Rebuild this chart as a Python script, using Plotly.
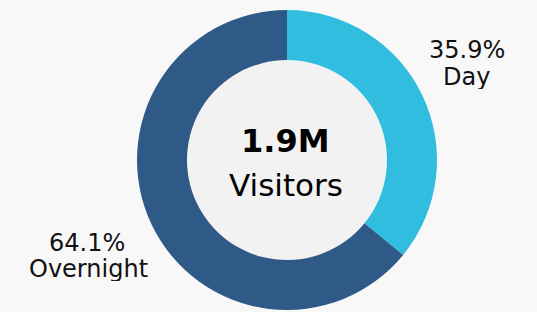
import plotly.graph_objects as go

categories = ["Day", "Overnight"]
shares = [35.9, 64.1]
colors = ["#31bde0", "#2f5a87"]
total_label = "1.9M"
center_label = "Visitors"

W, H = 537, 312
cx, cy, R, r = 287, 160, 150, 100

fig = go.Figure(go.Pie(
    labels=categories,
    values=shares,
    sort=False,
    direction="clockwise",
    rotation=0,
    hole=r / R,
    marker=dict(colors=colors, line=dict(width=0)),
    textinfo="none",
    hoverinfo="label+percent",
    showlegend=False,
    domain=dict(x=[(cx - R) / W, (cx + R) / W], y=[1 - (cy + R) / H, 1 - (cy - R) / H]),
))

def px(x, y):
    return x / W, 1 - y / H

font = "DejaVu Sans, Verdana, sans-serif"
ann = []
label_pos = {"Day": ((467, 50), (466, 77)), "Overnight": ((87, 242.5), (88, 268.5))}
for cat, val in zip(categories, shares):
    (x1, y1), (x2, y2) = label_pos[cat]
    for (x, y), t in (((x1, y1), f"{val:.1f}%"), ((x2, y2), cat)):
        ax, ay = px(x, y)
        ann.append(dict(x=ax, y=ay, xref="paper", yref="paper", text=t, showarrow=False,
                        xanchor="center", yanchor="middle", height=24, valign="middle",
                        font=dict(family=font, size=24, color="#111111")))
ax, ay = px(285, 141.5)
ann.append(dict(x=ax, y=ay, xref="paper", yref="paper", text=f"<b>{total_label}</b>", showarrow=False,
                xanchor="center", yanchor="middle", font=dict(family=font, size=32, color="#000000")))
ax, ay = px(286, 184.5)
ann.append(dict(x=ax, y=ay, xref="paper", yref="paper", text=center_label, showarrow=False,
                xanchor="center", yanchor="middle", font=dict(family=font, size=31, color="#000000")))

fig.update_layout(
    width=W, height=H,
    margin=dict(l=0, r=0, t=0, b=0),
    paper_bgcolor="#f8f8f8",
    plot_bgcolor="#f8f8f8",
    annotations=ann,
    shapes=[dict(type="circle", xref="paper", yref="paper", layer="below",
                 x0=(cx - r) / W, x1=(cx + r) / W, y0=1 - (cy + r) / H, y1=1 - (cy - r) / H,
                 fillcolor="#f2f2f2", line=dict(width=0))],
)
fig.write_html("out.html", config={"displayModeBar": False},
               post_script="document.body.style.margin='0';document.body.style.overflow='hidden';")
